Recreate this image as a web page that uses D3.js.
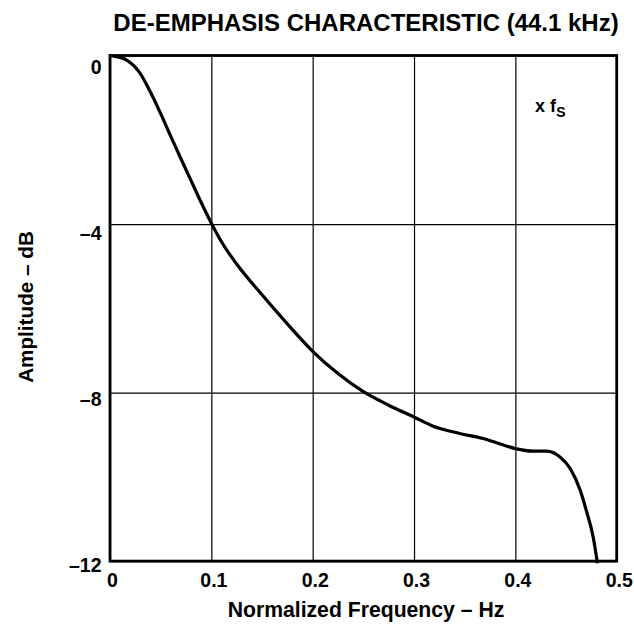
<html>
  <script src='https://d3js.org/d3.v7.min.js'></script>
  <style>
    body {margin: 0; background: white;}
    text {font-family: "Liberation Sans", Arial, Helvetica, sans-serif; font-weight: bold; fill: black;}
  </style>
  <body>
    <svg class="chart" width=634 height=625></svg>
    <script>
      // tick values and labels
      var xTicks = [0, 0.1, 0.2, 0.3, 0.4, 0.5];
      var xTickLabels = ["0", "0.1", "0.2", "0.3", "0.4", "0.5"];
      var yTicks = [0, -4, -8, -12];
      var yTickLabels = ["0", "\u20134", "\u20138", "\u201312"];

      // de-emphasis curve
      var freq = [0, 0.005, 0.0165, 0.0296, 0.0395, 0.05, 0.06, 0.07, 0.08, 0.09, 0.1,
                  0.11, 0.125, 0.15, 0.175, 0.2, 0.225, 0.25, 0.275, 0.3, 0.319, 0.345, 0.368,
                  0.385, 0.4, 0.4175, 0.431, 0.444, 0.454, 0.464, 0.47, 0.4768, 0.481];
      var ampl = [0, -0.02, -0.11, -0.42, -0.85, -1.38, -1.92, -2.45, -2.97, -3.49, -3.98,
                  -4.42, -4.95, -5.68, -6.37, -7.02, -7.55, -7.98, -8.3, -8.58, -8.8, -8.97, -9.09,
                  -9.22, -9.33, -9.39, -9.39, -9.53, -9.8, -10.32, -10.8, -11.43, -12.05];

      var title = "DE-EMPHASIS CHARACTERISTIC (44.1 kHz)";
      var xTitle = "Normalized Frequency \u2013 Hz";
      var yTitle = "Amplitude \u2013 dB";

      var marginLeft = 110, marginTop = 55.5;
      var width = 506.7, height = 505.6;

      var x = d3.scaleLinear().domain([0, 0.5]).range([0, width]);
      var y = d3.scaleLinear().domain([0, -12]).range([0, height]);
      // y labels sit slightly below their grid lines, drifting up toward the bottom
      var yLabel = d3.scaleLinear().domain([0, -12]).range([17.8, 515.5]);

      var svg = d3.select('.chart');
      var g = svg.append("g").attr("transform", "translate(" + marginLeft + "," + marginTop + ")");

      // grid
      var xGrid = g.append("g")
        .attr("transform", "translate(0," + height + ")")
        .call(d3.axisBottom(x).tickValues(xTicks).tickSize(-height).tickFormat(function(d, i) {return xTickLabels[i];}));
      xGrid.select(".domain").remove();
      xGrid.selectAll("line").attr("stroke", "black").attr("stroke-width", 1.2);
      xGrid.selectAll("text")
        .attr("y", 26).attr("dx", 2).attr("dy", 0)
        .style("font-size", "19.5px").style("font-family", "'Liberation Sans', Arial, sans-serif").style("font-weight", "bold");

      var yGrid = g.append("g")
        .call(d3.axisLeft(y).tickValues(yTicks).tickSize(-width).tickFormat(function(d, i) {return yTickLabels[i];}));
      yGrid.select(".domain").remove();
      yGrid.selectAll("line").attr("stroke", "black").attr("stroke-width", 1.2);
      yGrid.selectAll("text")
        .attr("x", -8.5).attr("dy", 0)
        .attr("y", function(d) {return yLabel(d) - y(d);})
        .style("font-size", "19.5px").style("font-family", "'Liberation Sans', Arial, sans-serif").style("font-weight", "bold");

      // frame
      g.append("rect")
        .attr("x", 0).attr("y", 0).attr("width", width).attr("height", height)
        .attr("fill", "none").attr("stroke", "black").attr("stroke-width", 2.8);

      // curve
      var pts = freq.map(function(f, i) {return [f, ampl[i]];});
      g.append("path")
        .datum(pts)
        .attr("fill", "none").attr("stroke", "black").attr("stroke-width", 3.2)
        .attr("stroke-linejoin", "round").attr("stroke-linecap", "butt")
        .attr("d", d3.line().x(function(d) {return x(d[0]);}).y(function(d) {return y(d[1]);}).curve(d3.curveMonotoneX));

      // x fs annotation
      var ann = g.append("text")
        .attr("x", x(0.4195)).attr("y", y(-1.34))
        .style("font-size", "18px");
      ann.append("tspan").text("x f");
      ann.append("tspan").attr("dy", 5).style("font-size", "14px").text("S");

      // titles
      svg.append("text")
        .attr("x", 366).attr("y", 31)
        .attr("text-anchor", "middle")
        .style("font-size", "24px")
        .text(title);

      svg.append("text")
        .attr("x", 366).attr("y", 617)
        .attr("text-anchor", "middle")
        .style("font-size", "21.2px")
        .text(xTitle);

      svg.append("text")
        .attr("transform", "translate(33,307) rotate(-90)")
        .attr("text-anchor", "middle")
        .style("font-size", "20.7px")
        .text(yTitle);
    </script>
  </body>
</html>
